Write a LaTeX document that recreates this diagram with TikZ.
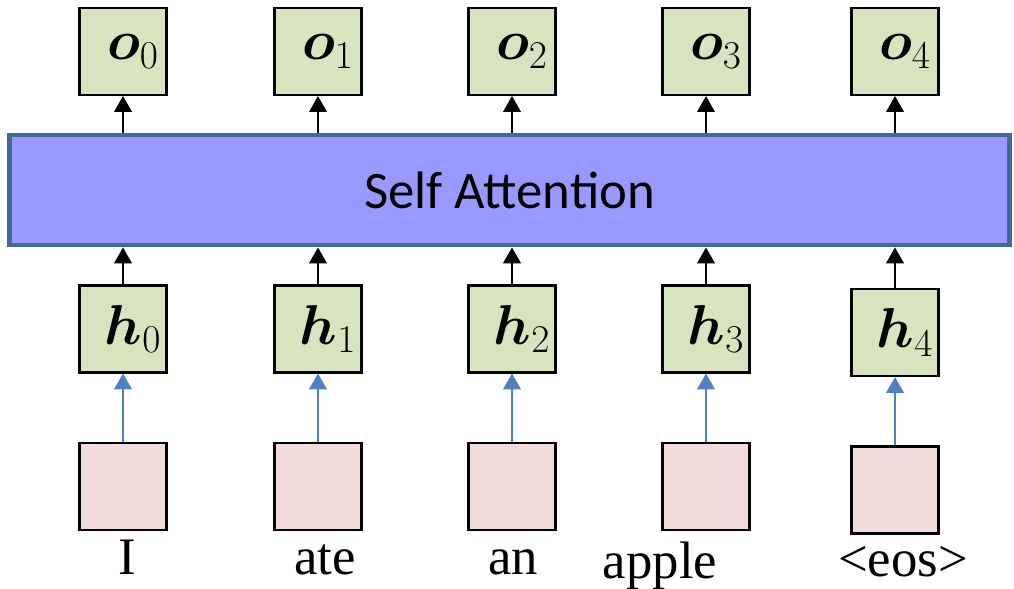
\RequirePackage{fix-cm}
\documentclass[tikz,border=0pt]{standalone}
\usepackage{amsmath,bm}
\usepackage{fontspec}
\setmainfont{Liberation Serif}
\newfontfamily\attnfont{Carlito}
\usetikzlibrary{arrows.meta}

\definecolor{vecgreen}{HTML}{D7E4BD}
\definecolor{embpink}{HTML}{F2DCDB}
\definecolor{attnfill}{HTML}{9999FF}
\definecolor{attnedge}{HTML}{41699A}
\definecolor{embarrow}{HTML}{4F81BD}

\begin{document}
\begin{tikzpicture}[
  vecbox/.style={rectangle, draw, line width=1.2pt, fill=vecgreen, minimum size=1.74cm, inner sep=0pt,
    font=\fontsize{32}{38}\selectfont},
  embbox/.style={rectangle, draw, line width=1.2pt, fill=embpink, minimum size=1.74cm, inner sep=0pt},
  word/.style={anchor=base, inner sep=0pt, font=\fontsize{30}{36}\selectfont},
  uparrow/.style={line width=0.9pt, -{Triangle[width=10pt,length=9pt]}},
  embup/.style={line width=1.1pt, draw=embarrow, -{Triangle[width=10pt,length=9pt]}, embarrow}
]
  \useasboundingbox (0,0) rectangle (20.28,11.78);

  \node[rectangle, draw=attnedge, line width=2.8pt, fill=attnfill, minimum width=20.0cm,
    minimum height=2.2cm, font=\attnfont\fontsize{30}{36}\selectfont] (attn) at (10.19,7.98) {Self Attention};

  \foreach \i/\x/\dy in {0/2.46/0, 1/6.36/0, 2/10.24/0, 3/14.12/0, 4/17.9/-0.07} {
    \node[vecbox] (o\i) at (\x,10.75) {\hspace{0.4cm}$\bm{o}_{\i}$};
    \node[vecbox] (h\i) at (\x,5.2+\dy) {\hspace{0.4cm}$\bm{h}_{\i}$};
    \node[embbox] (x\i) at (\x,2.05+\dy) {};
    \draw[uparrow] (attn.north -| o\i) -- (o\i);
    \draw[uparrow] (h\i) -- (attn.south -| h\i);
    \draw[embup] (x\i) -- (h\i);
  }

  % words under the input boxes
  \node[word] (w0) at (2.54,0.28) {I};
  \node[word] (w1) at (6.5,0.28) {ate};
  \node[word] (w2) at (10.26,0.28) {an};
  \node[word] (w3) at (13.2,0.2) {apple};
  \node[word] (w4) at (18.06,0.24) {<eos>};
\end{tikzpicture}
\end{document}
